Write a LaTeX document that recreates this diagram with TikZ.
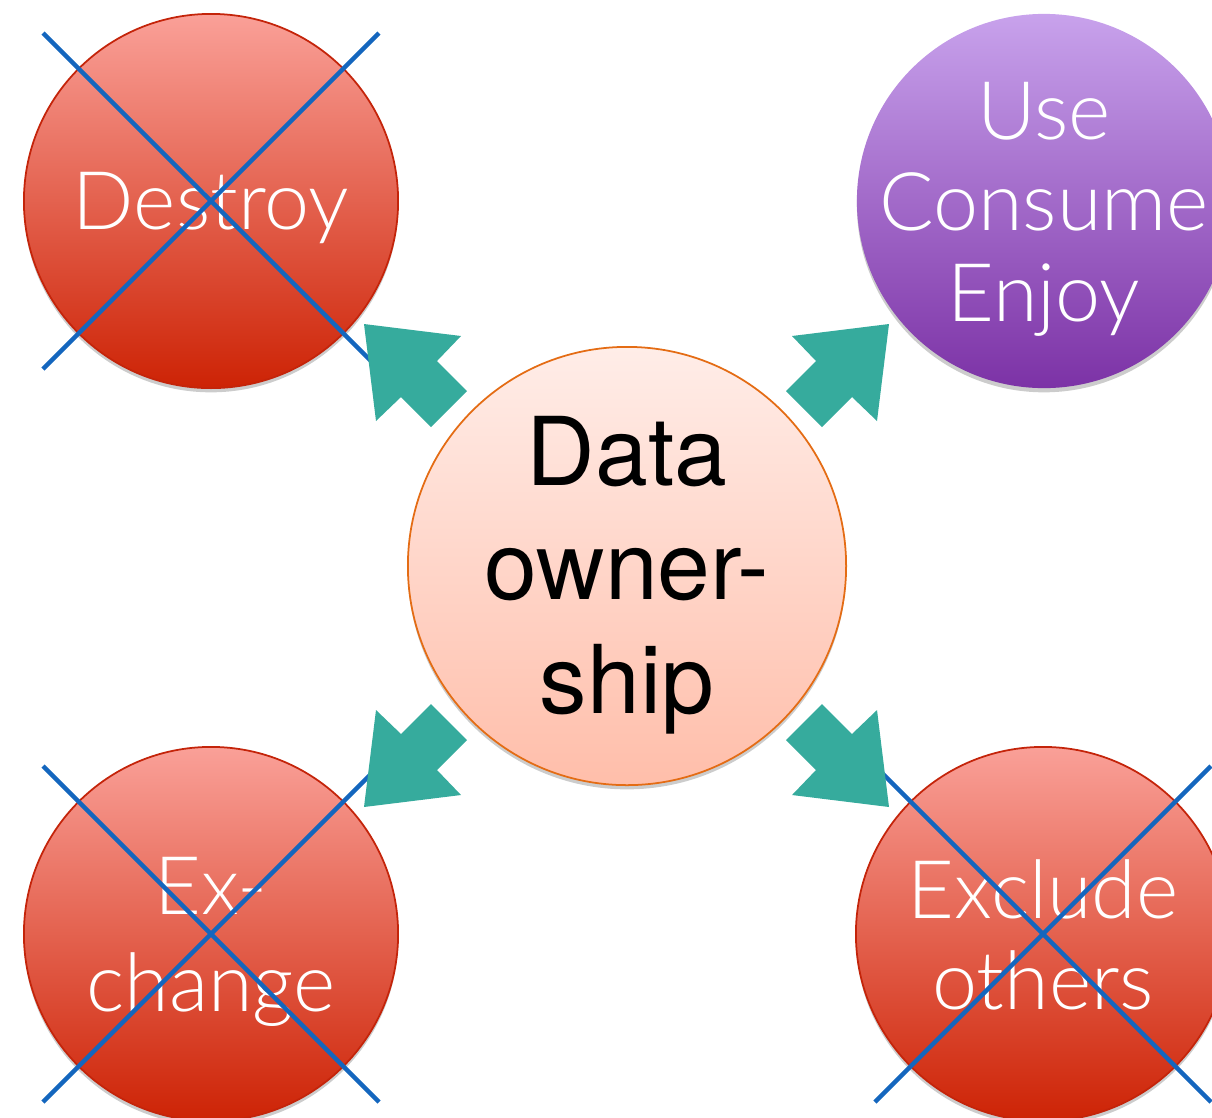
\documentclass[tikz,border=0pt]{standalone}
\usepackage{fontspec}
\setmainfont{TeX Gyre Heros}
\newfontfamily\lightfont{Lato}[UprightFont={* Light}]
\usetikzlibrary{shadows}
\definecolor{redtop}{RGB}{250,160,152}
\definecolor{redbot}{RGB}{205,35,5}
\definecolor{redline}{RGB}{196,36,10}
\definecolor{purtop}{RGB}{200,162,236}
\definecolor{purbot}{RGB}{124,50,166}
\definecolor{centop}{RGB}{255,237,232}
\definecolor{cenbot}{RGB}{255,190,170}
\definecolor{cenline}{RGB}{228,108,20}
\definecolor{crossblue}{RGB}{20,102,190}
\definecolor{arrowteal}{RGB}{54,171,157}
\tikzset{
  ball/.style={circle, inner sep=0pt, minimum size=3.74cm, line width=0.5pt,
    drop shadow={shadow xshift=0pt, shadow yshift=-1.2pt, opacity=0.2, fill=black}},
  redball/.style={ball, draw=redline, top color=redtop, bottom color=redbot},
  purball/.style={ball, top color=purtop, bottom color=purbot},
  cenball/.style={ball, minimum size=4.38cm, draw=cenline, top color=centop, bottom color=cenbot},
  wtext/.style={text=white, align=center, inner sep=0pt, font=\lightfont\fontsize{23}{25.9}\selectfont},
  btext/.style={text=black, align=center, inner sep=0pt, font=\fontsize{27}{32.4}\selectfont},
  crossline/.style={draw=crossblue, line width=1.25pt},
  blockarrow/.style={fill=arrowteal}
}
\newcommand{\arrowshape}{(0,0) -- (97,12) -- (73,37) -- (103,67) -- (67,103) -- (37,73) -- (12,97) -- cycle}
\begin{document}
\begin{tikzpicture}[x=0.01cm, y=-0.01cm]
\useasboundingbox (0,0) rectangle (1212,1117);
\clip (0,0) rectangle (1212,1117);
% circles
\node[redball] (destroy) at (211,201) {};
\node[purball] (use) at (1044,201) {};
\node[cenball] (own) at (627,566) {};
\node[redball] (exchange) at (211,934) {};
\node[redball] (exclude) at (1043,934) {};
% texts
\node[wtext] (destroyT) at (211,208) {Destroy};
\node[wtext] (useT) at (1044,209) {Use\\Consume\\Enjoy};
\node[btext] (ownT) at (627,575) {Data\\owner-\\ship};
\node[wtext, font=\lightfont\fontsize{23}{27.6}\selectfont] (exchangeT) at (211,942) {Ex-\\change};
\node[wtext] (excludeT) at (1043,935) {Exclude\\others};
% crosses
\foreach \n in {destroy, exchange, exclude}{
  \draw[crossline, shift={(\n.center)}] (-168,-168) -- (168,168);
  \draw[crossline, shift={(\n.center)}] (168,-168) -- (-168,168);
}
% block arrows
\begin{scope}[shift={(364,324)}]
  \fill[blockarrow] \arrowshape;
\end{scope}
\begin{scope}[shift={(889,324)}, xscale=-1]
  \fill[blockarrow] \arrowshape;
\end{scope}
\begin{scope}[shift={(364,807)}, yscale=-1]
  \fill[blockarrow] \arrowshape;
\end{scope}
\begin{scope}[shift={(889,807)}, xscale=-1, yscale=-1]
  \fill[blockarrow] \arrowshape;
\end{scope}
\end{tikzpicture}
\end{document}
